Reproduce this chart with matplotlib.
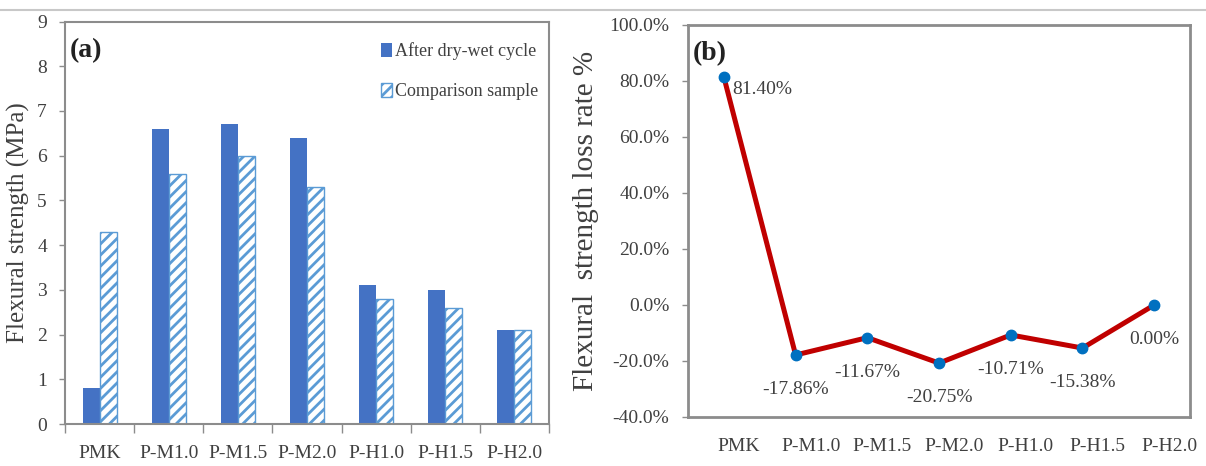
import matplotlib
matplotlib.use("Agg")
import matplotlib.pyplot as plt
import matplotlib.transforms as mtransforms
from matplotlib.lines import Line2D
from matplotlib.ticker import FuncFormatter
import numpy as np

plt.rcParams['font.family'] = ['Liberation Serif', 'DejaVu Serif']
plt.rcParams['hatch.linewidth'] = 2.0

# data
samples = ['PMK', 'P-M1.0', 'P-M1.5', 'P-M2.0', 'P-H1.0', 'P-H1.5', 'P-H2.0']
after_cycle = [0.8, 6.6, 6.7, 6.4, 3.1, 3.0, 2.1]
comparison = [4.3, 5.6, 6.0, 5.3, 2.8, 2.6, 2.1]
loss_rate = [81.40, -17.86, -11.67, -20.75, -10.71, -15.38, 0.00]

TXT = '#404040'
SPINE = '#8c8c8c'

fig = plt.figure(figsize=(12.06, 4.66), dpi=100)

# thin gray rule across the top (from the screenshot)
fig.add_artist(Line2D([0, 1], [1 - 9.5 / 466, 1 - 9.5 / 466], transform=fig.transFigure,
                      color='#c8c8c8', lw=1.5))

# ---------- (a) bar chart ----------
ax1 = fig.add_axes([0.0539, 0.0901, 0.4013, 0.8637])
x = np.arange(len(samples))
w = 0.245
ax1.bar(x - w / 2, after_cycle, w, color='#4472C4', label='After dry-wet cycle', zorder=2)
ax1.bar(x + w / 2, comparison, w, facecolor='white', edgecolor='#5B9BD5', hatch='///',
        linewidth=1.0, label='Comparison sample', zorder=2)

ax1.set_xlim(-0.5, len(samples) - 0.5)
ax1.set_ylim(0, 9)
ax1.set_yticks(range(0, 10))
ax1.set_xticks(x)
ax1.set_xticklabels(samples)
ax1.set_xticks(np.arange(-0.5, len(samples)), minor=True)
ax1.tick_params(axis='x', which='major', length=0, pad=15, labelsize=14, labelcolor=TXT)
ax1.tick_params(axis='x', which='minor', length=6.5, width=1, color=SPINE, direction='out')
ax1.tick_params(axis='y', length=4, width=1, color=SPINE, pad=9, labelsize=14, labelcolor=TXT)
for s in ax1.spines.values():
    s.set_color(SPINE)
    s.set_linewidth(1.5)
ax1.set_ylabel('Flexural strength (MPa)', fontsize=18, color=TXT)
ax1.yaxis.set_label_coords(-0.072, 0.5)
ax1.text(0.01, 0.96, '(a)', transform=ax1.transAxes, fontsize=20, fontweight='bold',
         va='top', ha='left', color='#222222')
ax1.legend(loc='upper right', bbox_to_anchor=(1.0, 0.975), frameon=False, fontsize=13,
           labelcolor=TXT, handlelength=0.6, handleheight=0.8, handletextpad=0.15,
           labelspacing=1.25, borderaxespad=0.2)

# ---------- (b) line chart ----------
ax2 = fig.add_axes([0.5705, 0.1052, 0.4163, 0.8412])
ax2.plot(x, loss_rate, color='#C00000', lw=3.6, zorder=2)
ax2.plot(x, loss_rate, 'o', color='#0070C0', markersize=7.5, zorder=3)

ax2.set_xlim(-0.5, len(samples) - 0.5)
ax2.set_ylim(-40, 100)
ax2.set_yticks(np.arange(-40, 101, 20))
ax2.yaxis.set_major_formatter(FuncFormatter(lambda v, p: f'{v:.1f}%'))
ax2.set_xticks(x)
ax2.set_xticklabels(samples)
ax2.tick_params(axis='x', length=0, pad=15, labelsize=14, labelcolor=TXT)
ax2.tick_params(axis='y', length=4.5, width=1, color=SPINE, pad=9, labelsize=14, labelcolor=TXT)
shift = mtransforms.ScaledTranslation(0.15, 0, fig.dpi_scale_trans)
for lab in ax2.get_xticklabels():
    lab.set_transform(lab.get_transform() + shift)
for s in ax2.spines.values():
    s.set_color(SPINE)
    s.set_linewidth(2)
ax2.set_ylabel('Flexural  strength loss rate %', fontsize=21, color=TXT)
ax2.yaxis.set_label_coords(-0.177, 0.5)
ax2.text(0.01, 0.96, '(b)', transform=ax2.transAxes, fontsize=20, fontweight='bold',
         va='top', ha='left', color='#222222')

for i, v in enumerate(loss_rate):
    if i == 0:
        ax2.annotate(f'{v:.2f}%', (i, v), xytext=(6, -9), textcoords='offset points',
                     ha='left', va='center', fontsize=14, color=TXT)
    else:
        ax2.annotate(f'{v:.2f}%', (i, v), xytext=(0, -25), textcoords='offset points',
                     ha='center', va='center', fontsize=14, color=TXT)

fig.savefig('out.png', dpi=100)
